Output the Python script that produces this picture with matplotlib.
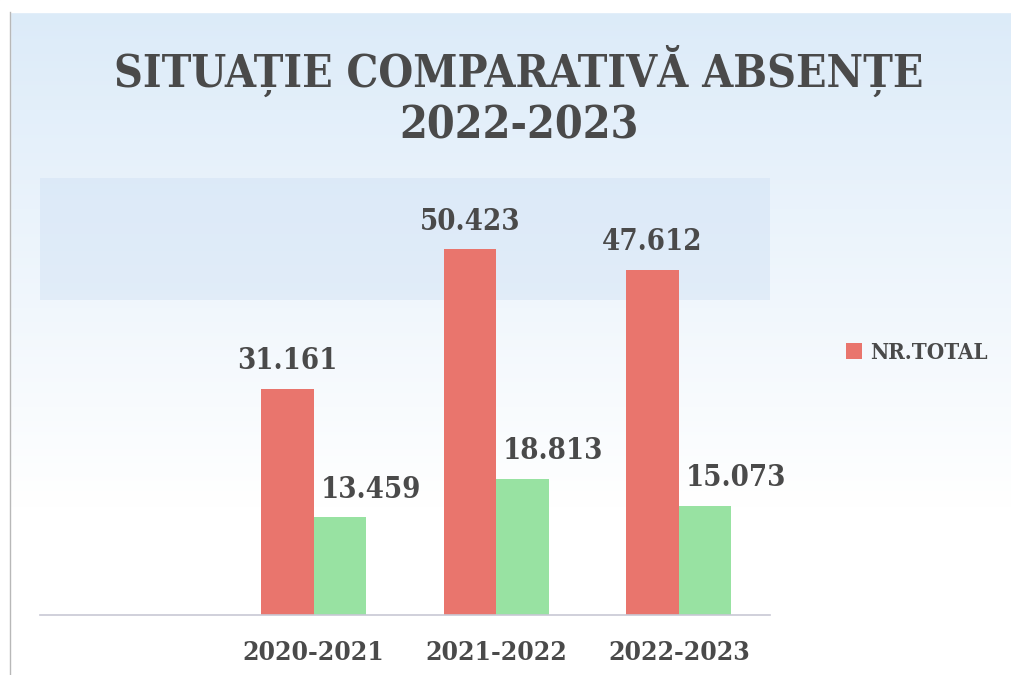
import numpy as np
import matplotlib
matplotlib.use("Agg")
import matplotlib.pyplot as plt
from matplotlib.patches import Rectangle

categories = ["2020-2021", "2021-2022", "2022-2023"]
total_values = [31.161, 50.423, 47.612]
second_values = [13.459, 18.813, 15.073]
total_labels = ["31.161", "50.423", "47.612"]
second_labels = ["13.459", "18.813", "15.073"]
legend_label = "NR.TOTAL"
title_text = "SITUAȚIE COMPARATIVĂ ABSENȚE\n2022-2023"

RED = "#e9756d"
GREEN = "#98e2a2"
TXT = "#4a4a4a"
FONT = "DejaVu Serif"
STRETCH = "condensed"

W, H = 1012, 675
fig = plt.figure(figsize=(W / 100, H / 100), dpi=100)

bg = fig.add_axes([0, 0, 1, 1], zorder=-10)
bg.set_axis_off()
yy = np.linspace(0, 1, 300)[:, None]
top = np.array([0.86, 0.92, 0.975])
bot = np.array([1.0, 1.0, 1.0])
t = np.clip(yy / 0.75, 0, 1)[..., None]
grad = top * (1 - t) + bot * t
grad = np.repeat(grad, 2, axis=1)
bg.imshow(grad, aspect="auto", extent=[0, 1, 0, 1], origin="upper")
bg.set_xlim(0, 1)
bg.set_ylim(0, 1)
bg.add_patch(Rectangle((0, 0), 10 / W, 1, color="white", zorder=2))
bg.add_patch(Rectangle((0, 1 - 12 / H), 1, 12 / H, color="white", zorder=2))
bg.plot([10 / W, 10 / W], [0, 1 - 12 / H], color="#b8b8b8", lw=1, zorder=3)
bg.add_patch(Rectangle((40 / W, 1 - 300 / H), 730 / W, 122 / H,
                       color="#cfe1f5", alpha=0.45, lw=0, zorder=1))

ax = fig.add_axes([40 / W, 1 - 615 / H, 730 / W, 435 / H])
ax.patch.set_alpha(0)
x = np.arange(len(categories))
bw = 0.287
b1 = ax.bar(x - bw / 2, total_values, bw, color=RED, label=legend_label)
b2 = ax.bar(x + bw / 2, second_values, bw, color=GREEN)
ax.set_xlim(-1.5, 2.5)
ax.set_ylim(0, 60)
for s in ["top", "right", "left"]:
    ax.spines[s].set_visible(False)
ax.spines["bottom"].set_color("#c8c8d4")
ax.spines["bottom"].set_linewidth(1.2)
ax.set_yticks([])
ax.set_xticks(x)
ax.set_xticklabels(categories, fontfamily=FONT, fontweight="bold",
                   fontstretch=STRETCH, fontsize=19, color=TXT)
ax.tick_params(axis="x", length=0, pad=18)

for i, (v, lab) in enumerate(zip(total_values, total_labels)):
    ax.annotate(lab, (x[i] - bw / 2, v), xytext=(0, 10), textcoords="offset points",
                ha="center", va="bottom", fontfamily=FONT, fontweight="bold",
                fontstretch=STRETCH, fontsize=21, color=TXT)
for i, (v, lab) in enumerate(zip(second_values, second_labels)):
    ax.annotate(lab, (x[i] + bw / 2, v), xytext=(22, 10), textcoords="offset points",
                ha="center", va="bottom", fontfamily=FONT, fontweight="bold",
                fontstretch=STRETCH, fontsize=21, color=TXT)

fig.text(519 / W, 1 - 96 / H, title_text, ha="center", va="center",
         fontfamily=FONT, fontweight="bold", fontstretch=STRETCH,
         fontsize=32, color=TXT, linespacing=1.2)

fig.legend(handles=[b1], labels=[legend_label], loc="center left",
           bbox_to_anchor=(826 / W, 1 - 353 / H), frameon=False,
           prop=dict(family=FONT, weight="bold", size=16, stretch=STRETCH),
           labelcolor=TXT, handlelength=0.7, handleheight=0.7,
           handletextpad=0.4)

fig.savefig("out.png", dpi=100)
